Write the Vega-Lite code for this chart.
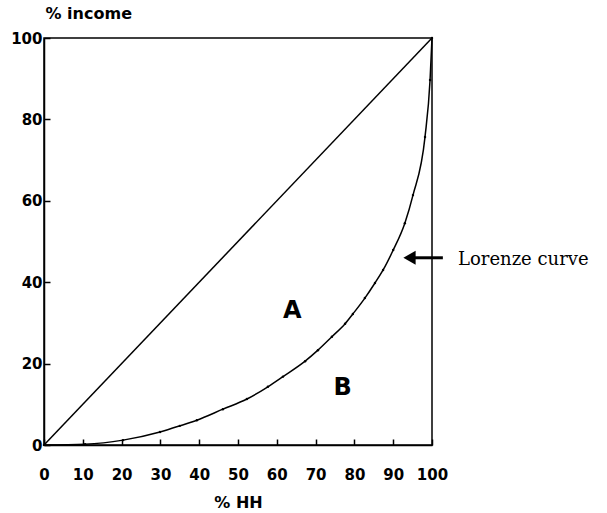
{
  "$schema": "https://vega.github.io/schema/vega-lite/v6.json",
  "width": 388,
  "height": 407,
  "autosize": "none",
  "padding": {"left": 44, "top": 38, "right": 175, "bottom": 68},
  "background": "white",
  "config": {
    "view": {"stroke": "black", "strokeWidth": 1.5},
    "axis": {
      "grid": false,
      "domainColor": "black",
      "domainWidth": 1.5,
      "tickColor": "black",
      "tickWidth": 1.5,
      "tickSize": -6,
      "labelColor": "black",
      "titleColor": "black",
      "labelFont": "DejaVu Sans",
      "labelFontWeight": "bold",
      "labelFontSize": 15,
      "labelOverlap": false,
      "labelFlush": false,
      "titleFont": "DejaVu Sans",
      "titleFontSize": 16,
      "titleFontWeight": "bold"
    }
  },
  "datasets": {
    "equality": [{"x": 0, "y": 0}, {"x": 100, "y": 100}],
    "lorenz": [
      {"x": 0, "y": 0}, {"x": 10.6, "y": 0.2}, {"x": 20.4, "y": 1.2}, {"x": 29.9, "y": 3.2},
      {"x": 35, "y": 4.7}, {"x": 39.4, "y": 6.1}, {"x": 46.1, "y": 8.8}, {"x": 52.3, "y": 11.3},
      {"x": 57.7, "y": 14.3}, {"x": 61.6, "y": 16.8}, {"x": 67.3, "y": 20.6}, {"x": 70.6, "y": 23.3},
      {"x": 74.2, "y": 26.6}, {"x": 77.6, "y": 29.8}, {"x": 79.6, "y": 32.2}, {"x": 82.7, "y": 36.1},
      {"x": 85.3, "y": 39.8}, {"x": 87.4, "y": 43}, {"x": 90, "y": 47.9}, {"x": 93, "y": 54.5},
      {"x": 95.1, "y": 61.4}, {"x": 98.2, "y": 75.7}, {"x": 99.5, "y": 89.7}, {"x": 100, "y": 100}
    ],
    "areas": [{"x": 64, "y": 33, "label": "A"}, {"x": 77, "y": 14, "label": "B"}],
    "note": [{"x": 106.7, "y": 45.5, "label": "Lorenze curve"}],
    "arrow": [{"x": 95.6, "x2": 102.8, "y": 46}],
    "head": [{"x": 94.2, "y": 46}]
  },
  "encoding": {
    "x": {
      "field": "x", "type": "quantitative",
      "scale": {"domain": [0, 100], "nice": false},
      "axis": {
        "values": [0, 10, 20, 30, 40, 50, 60, 70, 80, 90, 100],
        "title": "% HH",
        "labelPadding": 28,
        "titleY": 57,
        "titleBaseline": "middle"
      }
    },
    "y": {
      "field": "y", "type": "quantitative",
      "scale": {"domain": [0, 100], "nice": false},
      "axis": {
        "values": [0, 20, 40, 60, 80, 100],
        "title": "% income",
        "titleAngle": 0,
        "titleX": 1,
        "titleY": -25,
        "titleAlign": "left",
        "titleBaseline": "middle",
        "labelPadding": 8
      }
    }
  },
  "layer": [
    {
      "data": {"name": "equality"},
      "mark": {"type": "line", "color": "black", "strokeWidth": 1.5}
    },
    {
      "data": {"name": "lorenz"},
      "mark": {"type": "line", "color": "black", "strokeWidth": 1.5, "interpolate": "monotone",
               "point": {"filled": true, "size": 6, "color": "black"}}
    },
    {
      "data": {"name": "areas"},
      "mark": {"type": "text", "font": "DejaVu Sans", "fontWeight": "bold", "fontSize": 24, "color": "black", "align": "center", "baseline": "middle"},
      "encoding": {"text": {"field": "label"}}
    },
    {
      "data": {"name": "note"},
      "mark": {"type": "text", "font": "DejaVu Serif", "fontSize": 18, "color": "black", "align": "left", "baseline": "middle"},
      "encoding": {"text": {"field": "label"}}
    },
    {
      "data": {"name": "arrow"},
      "mark": {"type": "rule", "color": "black", "strokeWidth": 3},
      "encoding": {"x2": {"field": "x2"}}
    },
    {
      "data": {"name": "head"},
      "mark": {"type": "point", "shape": "triangle-left", "filled": true, "color": "black", "size": 200, "opacity": 1}
    }
  ]
}
